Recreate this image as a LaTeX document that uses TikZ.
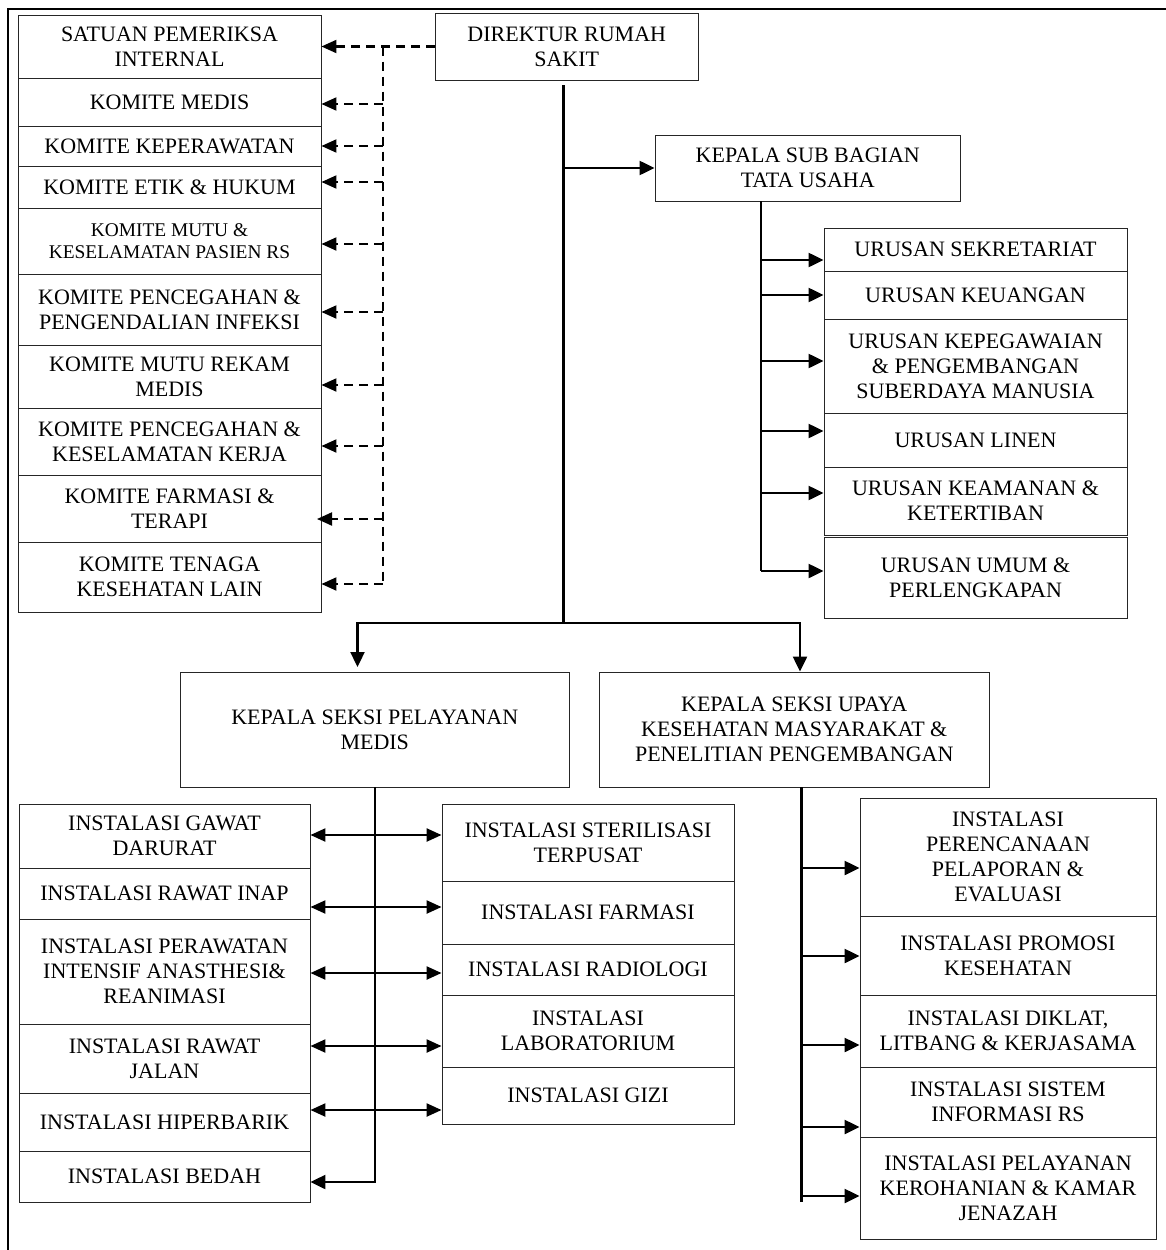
\documentclass[tikz,border=0pt]{standalone}
\usepackage{fontspec}
\setmainfont{Liberation Serif}
\usetikzlibrary{arrows.meta}
\begin{document}
\begin{tikzpicture}[x=1pt,y=-1pt,
 box/.style={draw=black!85, line width=0.9pt, inner sep=1pt, align=center, font=\fontsize{22}{25}\selectfont},
 conn/.style={line width=2.3pt},
 arr/.style={conn, -{Triangle[length=15pt,width=14pt]}},
 dbl/.style={conn, {Triangle[length=15pt,width=13pt]}-{Triangle[length=15pt,width=13pt]}},
 dln/.style={line width=2.1pt, dash pattern=on 9pt off 6pt},
 darr/.style={dln, -{Triangle[length=15pt,width=13pt]}}]
\useasboundingbox (0,0) rectangle (1166,1250);
\draw[line width=2pt] (8,1252) -- (8,9) -- (1168,9);

% committees
\node[box, minimum width=303pt, minimum height=63pt] (sat) at (169.5,46.5) {SATUAN PEMERIKSA\\INTERNAL};
\node[box, minimum width=303pt, minimum height=48pt] (med) at (169.5,102) {KOMITE MEDIS};
\node[box, minimum width=303pt, minimum height=40pt] (kep) at (169.5,146) {KOMITE KEPERAWATAN};
\node[box, minimum width=303pt, minimum height=42pt] (etik) at (169.5,187) {KOMITE ETIK \& HUKUM};
\node[box, minimum width=303pt, minimum height=66pt, font=\fontsize{19.4}{22}\selectfont] (mutu) at (169.5,241) {KOMITE MUTU \&\\KESELAMATAN PASIEN RS};
\node[box, minimum width=303pt, minimum height=71pt] (ppi) at (169.5,309.5) {KOMITE PENCEGAHAN \&\\PENGENDALIAN INFEKSI};
\node[box, minimum width=303pt, minimum height=63pt] (rekam) at (169.5,376.5) {KOMITE MUTU REKAM\\MEDIS};
\node[box, minimum width=303pt, minimum height=67pt] (kkk) at (169.5,441.5) {KOMITE PENCEGAHAN \&\\KESELAMATAN KERJA};
\node[box, minimum width=303pt, minimum height=67pt] (farm) at (169.5,508.5) {KOMITE FARMASI \&\\TERAPI};
\node[box, minimum width=303pt, minimum height=70pt] (ten) at (169.5,577) {KOMITE TENAGA\\KESEHATAN LAIN};

% director
\node[box, minimum width=262.5pt, minimum height=67pt] (dir) at (566.75,46.5) {DIREKTUR RUMAH\\SAKIT};
\node[box, minimum width=305.5pt, minimum height=66pt] (tu) at (807.75,168) {KEPALA SUB BAGIAN\\TATA USAHA};

% urusan
\node[box, minimum width=303pt, minimum height=43pt] (sek) at (975.5,249.5) {URUSAN SEKRETARIAT};
\node[box, minimum width=303pt, minimum height=48pt] (keu) at (975.5,295) {URUSAN KEUANGAN};
\node[box, minimum width=303pt, minimum height=94pt] (peg) at (975.5,366) {URUSAN KEPEGAWAIAN\\\& PENGEMBANGAN\\SUBERDAYA MANUSIA};
\node[box, minimum width=303pt, minimum height=54pt] (lin) at (975.5,440) {URUSAN LINEN};
\node[box, minimum width=303pt, minimum height=68pt] (kea) at (975.5,501) {URUSAN KEAMANAN \&\\KETERTIBAN};
\node[box, minimum width=303pt, minimum height=81pt] (umum) at (975.5,577.5) {URUSAN UMUM \&\\PERLENGKAPAN};

% kepala seksi
\node[box, minimum width=389.5pt, minimum height=115pt] (kspm) at (374.75,729.5) {KEPALA SEKSI PELAYANAN\\MEDIS};
\node[box, minimum width=390.5pt, minimum height=115pt] (ksukm) at (794.25,729.5) {KEPALA SEKSI UPAYA\\KESEHATAN MASYARAKAT \&\\PENELITIAN PENGEMBANGAN};

% left instalasi
\node[box, minimum width=291pt, minimum height=64pt] (gd) at (164.5,836) {INSTALASI GAWAT\\DARURAT};
\node[box, minimum width=291pt, minimum height=51pt] (inap) at (164.5,893.5) {INSTALASI RAWAT INAP};
\node[box, minimum width=291pt, minimum height=105pt] (icu) at (164.5,971.5) {INSTALASI PERAWATAN\\INTENSIF ANASTHESI\&\\REANIMASI};
\node[box, minimum width=291pt, minimum height=69pt] (jalan) at (164.5,1058.5) {INSTALASI RAWAT\\JALAN};
\node[box, minimum width=291pt, minimum height=58pt] (hip) at (164.5,1122) {INSTALASI HIPERBARIK};
\node[box, minimum width=291pt, minimum height=51pt] (bedah) at (164.5,1176.5) {INSTALASI BEDAH};

% middle instalasi
\node[box, minimum width=292pt, minimum height=77pt] (ster) at (588,842.5) {INSTALASI STERILISASI\\TERPUSAT};
\node[box, minimum width=292pt, minimum height=63pt] (ifar) at (588,912.5) {INSTALASI FARMASI};
\node[box, minimum width=292pt, minimum height=51pt] (rad) at (588,969.5) {INSTALASI RADIOLOGI};
\node[box, minimum width=292pt, minimum height=72pt] (lab) at (588,1031) {INSTALASI\\LABORATORIUM};
\node[box, minimum width=292pt, minimum height=57pt] (gizi) at (588,1095.5) {INSTALASI GIZI};

% right instalasi
\node[box, minimum width=296pt, minimum height=118pt] (ren) at (1008,857) {INSTALASI\\PERENCANAAN\\PELAPORAN \&\\EVALUASI};
\node[box, minimum width=296pt, minimum height=79pt] (pro) at (1008,955.5) {INSTALASI PROMOSI\\KESEHATAN};
\node[box, minimum width=296pt, minimum height=72pt] (dik) at (1008,1031) {INSTALASI DIKLAT,\\LITBANG \& KERJASAMA};
\node[box, minimum width=296pt, minimum height=70pt] (sis) at (1008,1102) {INSTALASI SISTEM\\INFORMASI RS};
\node[box, minimum width=296pt, minimum height=102pt] (roh) at (1008,1188) {INSTALASI PELAYANAN\\KEROHANIAN \& KAMAR\\JENAZAH};

% dashed connectors
\coordinate (dv1) at (383,46.5);
\coordinate (dv2) at (383,584);
\draw[darr] (dir.west) -- (sat.east);
\draw[dln] (dv1) -- (dv2);
\foreach \n/\y in {med/104, kep/146, etik/182, mutu/244, ppi/312, rekam/385, kkk/446, ten/584}
  \draw[darr] (383,\y) -- (\n.east |- 0,\y);
\draw[darr] (383,519) -- (317,519);

% main line
\coordinate (m1) at (563.5,85);
\coordinate (m2) at (563.5,623);
\draw[conn] (m1) -- (m2);
\draw[arr] (563.5,168) -- (tu.west);
\draw[arr] (m2) -| (357.5,667);
\draw[arr] (m2) -| (ksukm.north -| 800,0);

% TU branch
\draw[conn] (tu.south -| 761,0) -- (761,571);
\foreach \n/\y in {sek/260, keu/295, peg/361, lin/431, kea/493, umum/571}
  \draw[arr] (761,\y) -- (\n.west |- 0,\y);

% medis branch
\draw[arr] (kspm.south -| 375,0) -- (375,1182) -- (bedah.east |- 0,1182);
\draw[dbl] (gd.east |- 0,835) -- (ster.west |- 0,835);
\draw[dbl] (inap.east |- 0,907) -- (ifar.west |- 0,907);
\draw[dbl] (icu.east |- 0,973) -- (rad.west |- 0,973);
\draw[dbl] (jalan.east |- 0,1046) -- (lab.west |- 0,1046);
\draw[dbl] (hip.east |- 0,1110) -- (gizi.west |- 0,1110);

% ukm branch
\draw[conn] (ksukm.south -| 801.6,0) -- (801.6,1202);
\foreach \n/\y in {ren/868, pro/956, dik/1045, sis/1127, roh/1196}
  \draw[arr] (801.6,\y) -- (\n.west |- 0,\y);
\end{tikzpicture}
\end{document}
